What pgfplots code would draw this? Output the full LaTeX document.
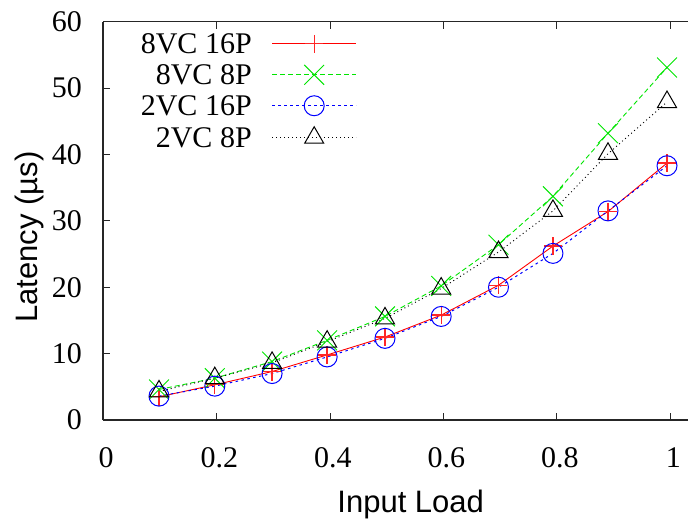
\documentclass[border=0pt]{standalone}
\usepackage{fontspec}
\setmainfont{Liberation Serif}
\setsansfont{Liberation Sans}
\usepackage{pgfplots}
\pgfplotsset{compat=1.18}
\definecolor{gpgreen}{rgb}{0,0.9,0}
\begin{document}
\begin{tikzpicture}
\useasboundingbox (0,0) rectangle (688bp,520bp);
\begin{axis}[
  at={(103bp,100bp)}, anchor=south west,
  scale only axis, width=585bp, height=398.3bp,
  xmin=0, xmax=1.031, ymin=0, ymax=60,
  axis x line=box, axis y line=left,
  xtick={0,0.2,0.4,0.6,0.8,1}, xticklabels={0,0.2,0.4,0.6,0.8,1},
  ytick={0,10,20,30,40,50,60},
  ytick pos=left, xtick pos=both,
  tick align=inside, major tick length=7bp,
  axis line style={-, line width=1.2bp, black!85},
  every tick/.style={line width=0.9bp, black!85},
  /pgf/number format/assume math mode=true,
  tick label style={font=\fontsize{30bp}{36bp}\selectfont},
  xticklabel style={inner sep=0pt, anchor=north, yshift=-27bp, xshift=3bp},
  yticklabel style={inner sep=0pt, anchor=east, xshift=-21bp},
  xlabel={Input Load}, ylabel={Latency (µs)},
  label style={font=\sffamily\fontsize{31bp}{37bp}\selectfont},
  xlabel style={at={(axis description cs:0.526,-0.233)}, anchor=base, inner sep=0pt},
  ylabel style={at={(axis description cs:-0.1265,0.459)}, anchor=center, inner sep=0pt},
  legend cell align=right,
  legend plot pos=right,
  legend style={draw=none, fill=none, at={(axis description cs:0.434,0.970)}, anchor=north east,
    inner sep=0pt, nodes={inner sep=0pt, text depth=0pt}, row sep=11bp, column sep=20bp,
    font=\fontsize{30bp}{36bp}\selectfont},
  legend image code/.code={\draw[mark repeat=2,mark phase=2,#1] plot coordinates {(0bp,0bp) (42bp,0bp) (84bp,0bp)};},
]
\addplot[red, line width=0.9bp, mark=+, mark size=9bp, mark options={solid, line width=1.3bp, red!85}] coordinates {
(0.0987,3.5) (0.197,5.3) (0.298,7.3) (0.395,9.8) (0.497,12.5) (0.596,15.8) (0.697,20.3) (0.793,26.2) (0.890,31.4) (0.994,38.7)};
\addlegendentry{8VC 16P}
\addplot[gpgreen, line width=0.9bp, dash pattern=on 5bp off 3bp, mark=x, mark size=14bp, mark options={solid, line width=1bp}] coordinates {
(0.0987,4.6) (0.197,6.3) (0.298,8.8) (0.395,12.0) (0.497,15.6) (0.596,20.2) (0.697,26.4) (0.793,33.7) (0.890,43.2) (0.994,53.1)};
\addlegendentry{8VC 8P}
\addplot[blue, line width=1bp, dash pattern=on 2.5bp off 3.5bp, mark=o, mark size=10bp, mark options={solid, line width=1bp}] coordinates {
(0.0987,3.6) (0.197,5.1) (0.298,7.0) (0.395,9.5) (0.497,12.3) (0.596,15.6) (0.697,20.0) (0.793,25.1) (0.890,31.5) (0.994,38.3)};
\addlegendentry{2VC 16P}
\addplot[black, line width=0.9bp, dash pattern=on 1bp off 3bp, mark=triangle, mark size=11bp, mark options={solid, line width=1bp}] coordinates {
(0.0987,4.3) (0.197,6.3) (0.298,8.6) (0.395,11.8) (0.497,15.3) (0.596,19.8) (0.697,25.3) (0.793,31.5) (0.890,40.1) (0.994,47.9)};
\addlegendentry{2VC 8P}
\end{axis}
\end{tikzpicture}
\end{document}
